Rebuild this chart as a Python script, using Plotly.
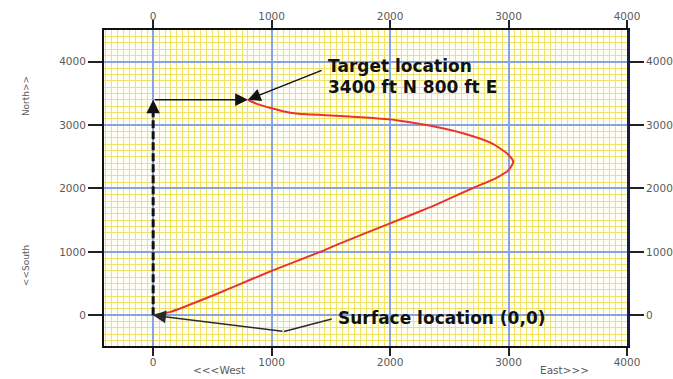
import plotly.graph_objects as go

# Well path in plan view (feet east / feet north of the surface location)
east_ft = [0, 140, 260, 540, 820, 1000, 1410, 1580, 2000, 2280, 2390, 2690, 2890,
           3000, 3040, 2985, 2860, 2615, 2310, 2080, 2000, 1860, 1580, 1300, 1155,
           1000, 875, 800]
north_ft = [0, 50, 130, 340, 560, 700, 1000, 1135, 1450, 1660, 1745, 2000, 2160,
            2290, 2420, 2555, 2710, 2870, 3000, 3070, 3090, 3110, 3145, 3170, 3195,
            3265, 3335, 3400]

surface_east, surface_north = 0, 0
target_east, target_north = 800, 3400

x_ticks = [0, 1000, 2000, 3000, 4000]
y_ticks = [0, 1000, 2000, 3000, 4000]

x_range = [-415, 4000]
y_range = [-485, 4500]

LABEL_FONT = dict(family="DejaVu Sans", size=10.5, color="#5a5a5a")
TITLE_FONT = dict(family="DejaVu Sans", size=9, color="#5a5a5a")
COMPASS_FONT = dict(family="DejaVu Sans", size=10.5, color="#5a5a5a")
NOTE_FONT = dict(family="DejaVu Sans", size=17, color="#111111", weight="bold")

MAJOR = "#87A3E4"
MINOR = "#F0E266"

fig = go.Figure()

# elbow segment of the "Surface location" pointer
fig.add_trace(go.Scatter(
    x=[1507, 1104], y=[-60, -255], mode="lines",
    line=dict(color="#2a2a2a", width=1.5), hoverinfo="skip", showlegend=False))

# the well trajectory
fig.add_trace(go.Scatter(
    x=east_ft, y=north_ft, mode="lines",
    line=dict(color="#E8352B", width=2, shape="spline", smoothing=0.6),
    showlegend=False))

# companion trace so the mirrored top/right axes get drawn with labels
fig.add_trace(go.Scatter(x=[None], y=[None], xaxis="x2", yaxis="y2",
                         showlegend=False, hoverinfo="skip"))

common_x = dict(range=x_range, tickvals=x_ticks, ticks="outside", ticklen=8,
                tickwidth=2, tickcolor="#222222", tickfont=LABEL_FONT,
                zeroline=False, fixedrange=True, automargin=False)
common_y = dict(range=y_range, tickvals=y_ticks, ticks="outside", ticklen=14,
                tickwidth=2, tickcolor="#222222", tickfont=LABEL_FONT,
                zeroline=False, fixedrange=True, automargin=False)

fig.update_layout(
    width=673, height=379,
    margin=dict(l=104, r=46, t=30, b=33, autoexpand=False),
    paper_bgcolor="white", plot_bgcolor="#FFFFF6",
    xaxis=dict(**common_x, ticklabelstandoff=-3,
               showgrid=True, gridcolor=MAJOR, gridwidth=1.5,
               minor=dict(dtick=50, tick0=0, showgrid=True, gridcolor=MINOR,
                          gridwidth=1.3, ticks=""),
               showline=True, linecolor="#111111", linewidth=2),
    yaxis=dict(**common_y, showgrid=True, gridcolor=MAJOR, gridwidth=1.5,
               minor=dict(dtick=100, tick0=0, showgrid=True, gridcolor=MINOR,
                          gridwidth=1.3, ticks=""),
               showline=True, linecolor="#111111", linewidth=2),
    xaxis2=dict(**common_x, ticklabelstandoff=-4, overlaying="x", side="top",
                matches="x", showgrid=False, showline=True,
                linecolor="#111111", linewidth=2),
    yaxis2=dict(**common_y, overlaying="y", side="right", matches="y",
                showgrid=False, showline=True, linecolor="#1b1b4a", linewidth=3),
)

# dashed north leg from the surface location up to the target latitude
fig.add_shape(type="line", xref="x", yref="y",
              x0=surface_east, y0=surface_north, x1=surface_east, y1=target_north - 120,
              line=dict(color="#111111", width=3, dash="8px,3px"))

annotations = [
    # arrowhead on the dashed north leg
    dict(x=surface_east, y=target_north, ax=surface_east, ay=target_north - 200,
         xref="x", yref="y", axref="x", ayref="y", text="", showarrow=True,
         arrowhead=2, arrowwidth=3, arrowsize=0.9, arrowcolor="#111111"),
    # east leg to the target
    dict(x=target_east, y=target_north, ax=surface_east, ay=target_north,
         xref="x", yref="y", axref="x", ayref="y", text="", showarrow=True,
         arrowhead=2, arrowwidth=1.5, arrowsize=1.7, arrowcolor="#111111"),
    # target pointer
    dict(x=target_east, y=target_north, ax=1435, ay=3872,
         xref="x", yref="y", axref="x", ayref="y", text="", showarrow=True,
         arrowhead=2, arrowwidth=1.5, arrowsize=1.7, arrowcolor="#111111"),
    # surface pointer
    dict(x=surface_east, y=surface_north, ax=1104, ay=-255,
         xref="x", yref="y", axref="x", ayref="y", text="", showarrow=True,
         arrowhead=2, arrowwidth=1.5, arrowsize=1.7, arrowcolor="#2a2a2a"),
    dict(x=1460, y=3935, xref="x", yref="y", text="Target location",
         showarrow=False, xanchor="left", yanchor="middle", font=NOTE_FONT),
    dict(x=1460, y=3605, xref="x", yref="y", text="3400 ft N 800 ft E",
         showarrow=False, xanchor="left", yanchor="middle", font=NOTE_FONT),
    dict(x=1540, y=-40, xref="x", yref="y", text="Surface location (0,0)",
         showarrow=False, xanchor="left", yanchor="middle", font=NOTE_FONT),
    # compass direction titles
    dict(x=-0.149, y=0.791, xref="paper", yref="paper", text="North>>",
         textangle=-90, showarrow=False, xanchor="center", yanchor="middle",
         font=TITLE_FONT),
    dict(x=-0.149, y=0.253, xref="paper", yref="paper", text="<<South",
         textangle=-90, showarrow=False, xanchor="center", yanchor="middle",
         font=TITLE_FONT),
    dict(x=0.22, y=-0.077, xref="paper", yref="paper", text="<<<West",
         showarrow=False, xanchor="center", yanchor="middle", font=COMPASS_FONT),
    dict(x=0.881, y=-0.077, xref="paper", yref="paper", text="East>>>",
         showarrow=False, xanchor="center", yanchor="middle", font=COMPASS_FONT),
]
fig.update_layout(annotations=annotations)

fig.write_html("out.html", config={"displayModeBar": False})
